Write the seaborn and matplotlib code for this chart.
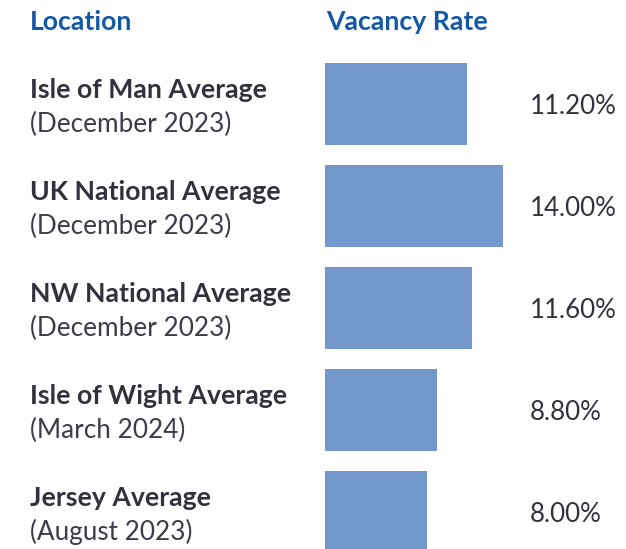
import matplotlib
matplotlib.use("Agg")
import matplotlib.pyplot as plt
import matplotlib.transforms as mtransforms
import seaborn as sns
import pandas as pd

locations = ["Isle of Man Average", "UK National Average", "NW National Average",
             "Isle of Wight Average", "Jersey Average"]
periods = ["(December 2023)", "(December 2023)", "(December 2023)",
           "(March 2024)", "(August 2023)"]
rates = [11.20, 14.00, 11.60, 8.80, 8.00]
value_labels = ["11.20%", "14.00%", "11.60%", "8.80%", "8.00%"]

W, H = 626, 549
sns.set_theme(style="white")
plt.rcParams["font.family"] = ["Lato", "DejaVu Sans"]

fig = plt.figure(figsize=(W / 100, H / 100), dpi=100)
fig.patch.set_facecolor("white")

def fx(px):
    return px / W

def fy(py):
    return 1 - py / H

# axes for bars: left 325px, top 53px, bottom 563px, right 625px
ax = fig.add_axes([fx(325), fy(563), fx(300), (563 - 53) / H])
df = pd.DataFrame({"loc": locations, "rate": rates})
sns.barplot(data=df, x="rate", y="loc", orient="h", color="#7398cb",
            saturation=1, width=0.80, linewidth=0, ax=ax)
ax.set_xlim(0, 14.0 * 300 / 178)
ax.set_ylim(len(locations) - 0.5, -0.5)
ax.axis("off")

blue = "#1258a6"
dark = "#32323e"
grey = "#3c3c4a"

fig.text(fx(30), fy(22), "Location", color=blue, fontsize=19.2,
         fontweight="bold", ha="left", va="center")
fig.text(fx(326), fy(22), "Vacancy Rate", color=blue, fontsize=19.2,
         fontweight="bold", ha="left", va="center")

trans = mtransforms.blended_transform_factory(fig.transFigure, ax.transData)
px_per_unit = (563 - 53) / len(locations)
for i, (loc, per, lab) in enumerate(zip(locations, periods, value_labels)):
    ax.text(fx(30), i - 14 / px_per_unit, loc, transform=trans, color=dark,
            fontsize=19.2, fontweight="bold", ha="left", va="center")
    ax.text(fx(30), i + 20 / px_per_unit, per, transform=trans, color=grey,
            fontsize=18.8, ha="left", va="center")
    ax.text(fx(530), i + 2 / px_per_unit, lab, transform=trans, color=dark,
            fontsize=18.6, ha="left", va="center")

fig.savefig("out.png", dpi=100, facecolor="white")
